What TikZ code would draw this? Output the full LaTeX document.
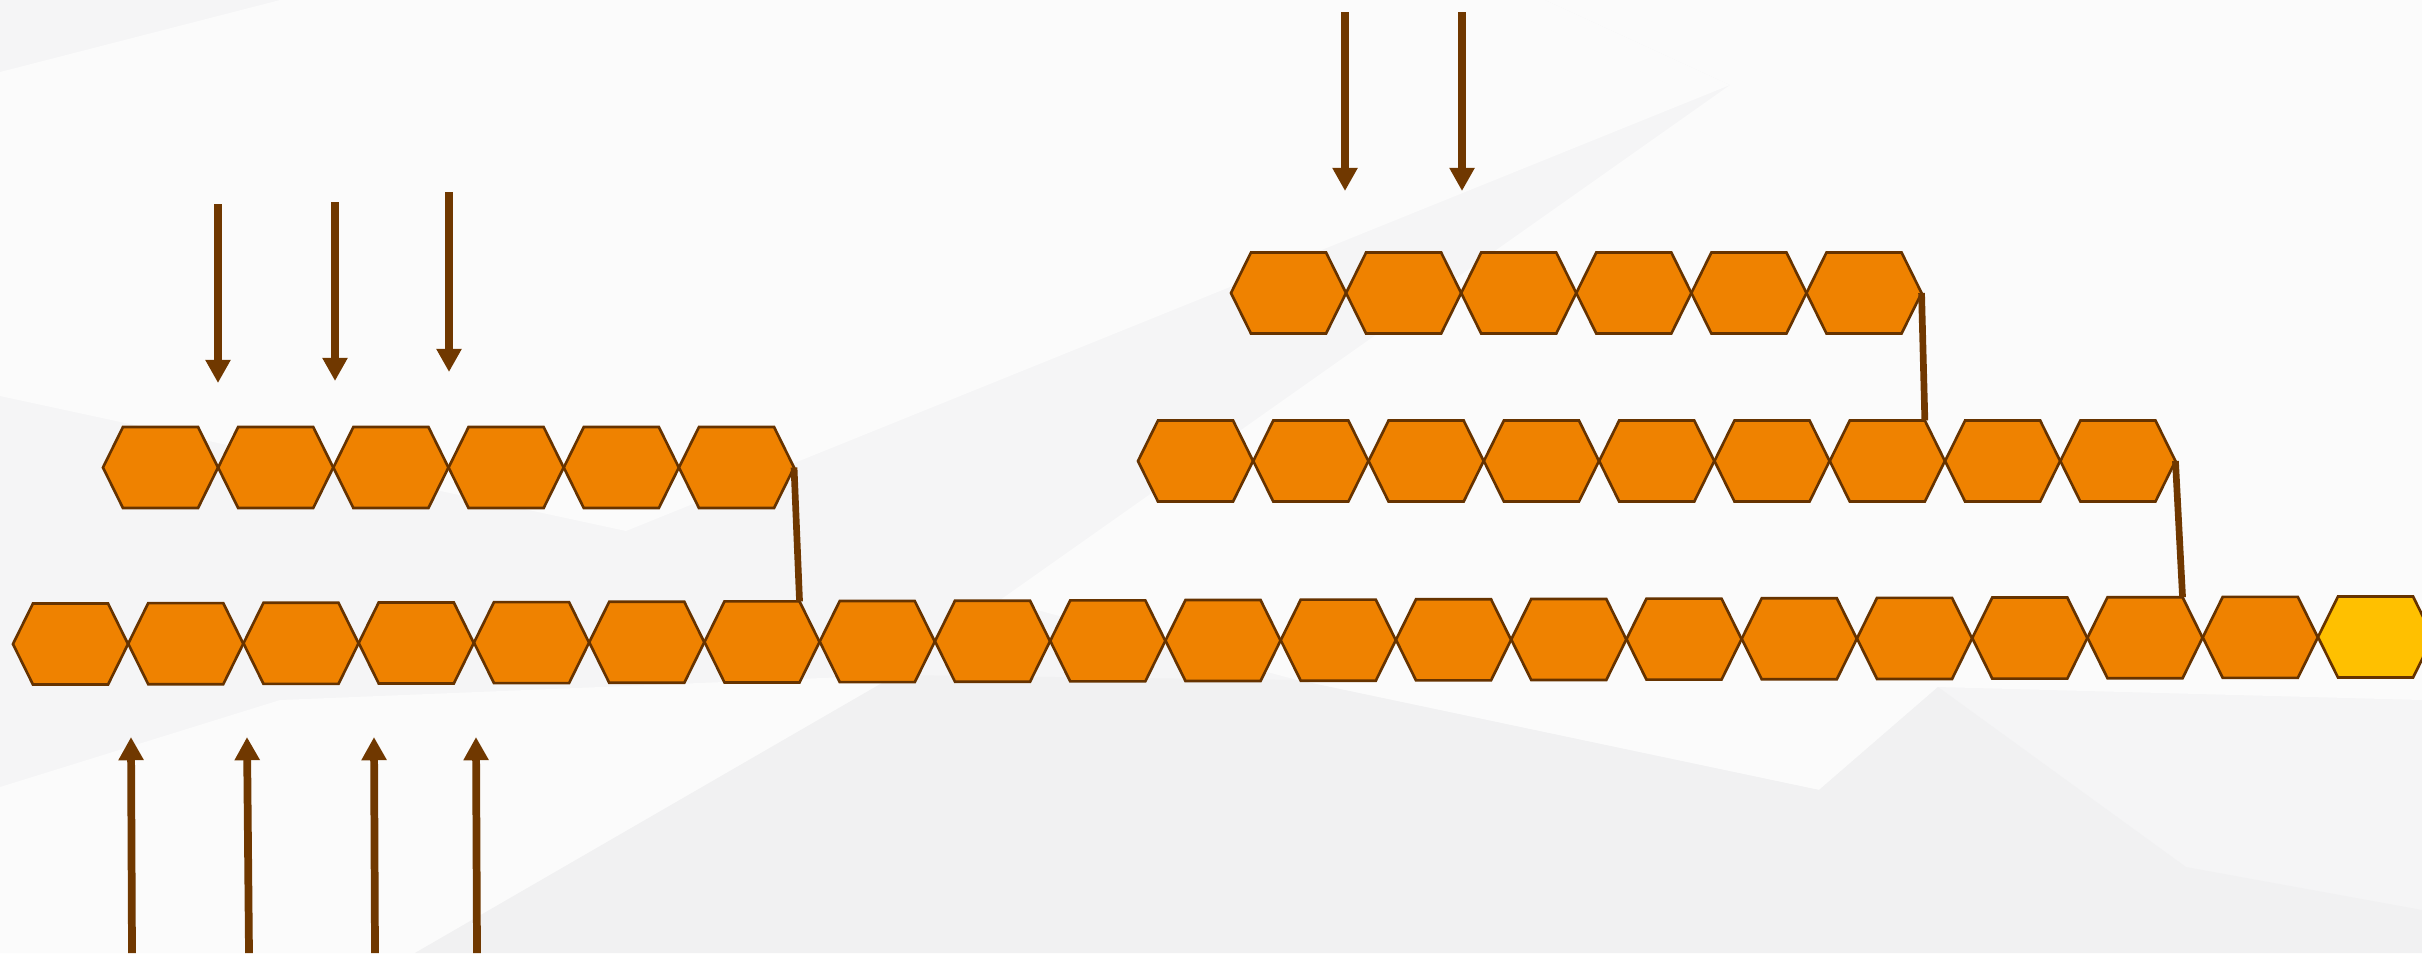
\documentclass[tikz,border=0pt]{standalone}
\usetikzlibrary{arrows.meta,calc}

\definecolor{hexorange}{HTML}{EF8200}
\definecolor{hexyellow}{HTML}{FFC000}
\definecolor{hexline}{HTML}{663300}
\definecolor{feedbrown}{HTML}{703800}
\definecolor{backbase}{HTML}{F5F5F6}
\definecolor{backlight}{HTML}{FBFBFB}
\definecolor{backdark}{HTML}{F1F1F2}

\tikzset{
  cell/.style={minimum width=1.15cm, minimum height=0.81cm, inner sep=0pt, outer sep=0pt},
  cellfill/.style={fill=hexorange, draw=hexline, line width=0.75pt, line join=miter},
  feed/.style={draw=feedbrown, line width=2.2pt, -{Triangle[width=6.8pt,length=6.6pt]}},
  link/.style={draw=feedbrown, line width=1.9pt},
}

% outline of one cell, from its node anchors
\newcommand{\hexcell}[1]{(#1.west) -- ($(#1.north west)+(20,0)$) -- ($(#1.north east)+(-20,0)$)
  -- (#1.east) -- ($(#1.south east)+(-20,0)$) -- ($(#1.south west)+(20,0)$) -- cycle}

\begin{document}
\begin{tikzpicture}[x=0.01cm, y=-0.01cm]

  % Backdrop
  \fill[backbase] (0,0) rectangle (2422,953);
  \fill[backlight] (0,72) -- (280,0) -- (1545,0) -- (1730,85) -- (626,531) -- (0,396) -- cycle;
  \fill[backlight] (1730,85) -- (1545,0) -- (2422,0) -- (2422,700) -- (1938,687)
    -- (1819,790) -- (1297,680) -- (1000,600) -- cycle;
  \fill[backlight] (0,787) -- (280,700) -- (896,675) -- (415,953) -- (0,953) -- cycle;
  \fill[backdark] (415,953) -- (896,675) -- (1297,680) -- (1819,790) -- (1628,953) -- cycle;
  \fill[backdark] (1628,953) -- (1819,790) -- (1938,687) -- (2186,867) -- (2422,910) -- (2422,953) -- cycle;
  \useasboundingbox (0,0) rectangle (2422,953);

  % Main chain
  \foreach \i in {0,...,20}
    \node[cell] (m\i) at ({70.5+115.25*\i},{644-0.35*\i}) {};
  \foreach \i in {0,...,19}
    \draw[cellfill] \hexcell{m\i};
  \draw[cellfill, fill=hexyellow] \hexcell{m20};

  % Left upper chain
  \foreach \i in {0,...,5}
    \node[cell] (a\i) at ({160.5+115.2*\i},467.5) {};
  \foreach \i in {0,...,5}
    \draw[cellfill] \hexcell{a\i};

  % Right middle chain
  \foreach \i in {0,...,8}
    \node[cell] (b\i) at ({1195.5+115.3*\i},461) {};
  \foreach \i in {0,...,8}
    \draw[cellfill] \hexcell{b\i};

  % Right top chain
  \foreach \i in {0,...,5}
    \node[cell] (c\i) at ({1288.5+115.1*\i},293) {};
  \foreach \i in {0,...,5}
    \draw[cellfill] \hexcell{c\i};

  % Joints between chains
  \draw[link] (a5.east) -- ($(m6.north east)+(-20,0)$);
  \draw[link] (c5.east) -- ($(b6.north east)+(-20,0)$);
  \draw[link] (b8.east) -- ($(m18.north east)+(-20,0)$);

  % Incoming arrows
  \foreach \n/\x/\ys/\ye in {1/218/204/383, 2/335/202/381, 3/449/192/372}{
    \coordinate (inA\n) at (\x,\ys);
    \coordinate (tipA\n) at (\x,\ye);
    \draw[feed] (inA\n) -- (tipA\n);
  }
  \foreach \n/\x in {1/1345, 2/1462}{
    \coordinate (inC\n) at (\x,12);
    \coordinate (tipC\n) at (\x,191);
    \draw[feed] (inC\n) -- (tipC\n);
  }
  \foreach \n/\xs/\xe in {1/132/131, 2/249/247, 3/375/374, 4/477/476}{
    \coordinate (inM\n) at (\xs,953);
    \coordinate (tipM\n) at (\xe,737);
    \draw[feed] (inM\n) -- (tipM\n);
  }

\end{tikzpicture}
\end{document}
